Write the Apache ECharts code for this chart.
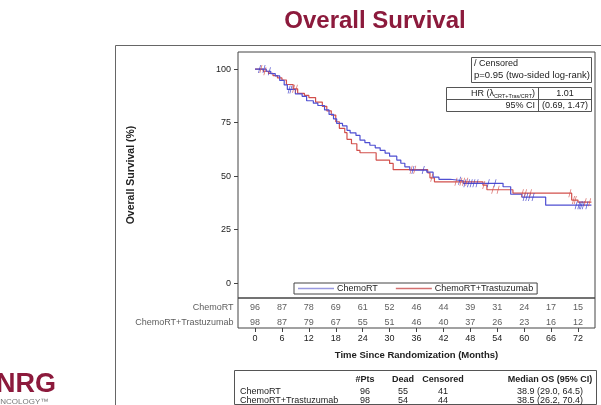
<!DOCTYPE html>
<html>
<head>
<meta charset="utf-8">
<script src="https://cdn.jsdelivr.net/npm/echarts@6/dist/echarts.min.js"></script>
<style>
  html, body { margin: 0; padding: 0; background: #fff; }
  #chart { width: 601px; height: 405px; }
</style>
</head>
<body>
<div id="chart"></div>
<script>
// Kaplan-Meier step points (months, % surviving)
const chemoTimes = [0, 2.5, 3.5, 4.5, 5.5, 6.5, 7.2, 9, 10.5, 11.5, 13, 14, 15.5, 16.5, 17.5, 18.2, 19.5, 20.5, 21.2, 22.5, 23.4, 24.5, 25.6, 26.8, 27.9, 29, 30, 31.6, 32.5, 33.4, 34.5, 38.3, 39.7, 41, 43.5, 46.4, 55.3, 57, 59.5, 64.8, 75];
const chemoSurv  = [100, 99, 97.9, 96.8, 94.7, 92.6, 90.5, 88.4, 87.3, 85.2, 84.1, 83, 80.9, 78.8, 76.7, 74.6, 73.5, 71.4, 70.2, 69, 66.8, 65.6, 64.4, 63.2, 62, 60.7, 59.3, 57.5, 56, 54.3, 52.8, 51.8, 49.5, 48.5, 47.8, 46.6, 45, 41.5, 40.2, 36.4, 36.4];
const trasTimes  = [0, 1.8, 3, 4, 5, 6, 7, 8.5, 9.5, 11, 12, 13.5, 15, 16, 17, 18, 18.8, 20, 20.5, 21.5, 22.7, 23.4, 27, 30, 30.8, 38.5, 39, 40, 50.8, 51.7, 57.5, 70.6, 72, 75];
const trasSurv   = [100, 99, 98, 97, 95.9, 94.9, 92.8, 90.8, 88.7, 87.7, 86.7, 84.6, 82.6, 80.5, 78.5, 75.4, 72.3, 70.3, 67.2, 65.1, 62, 60.9, 57.5, 55.9, 53, 51.5, 49.2, 47.3, 45.8, 43.6, 42, 38.8, 37.8, 37.8];

// Censoring times (months)
const chemoCens = [1, 2, 3.2, 7.6, 8, 35.2, 37.5, 45.6, 46.8, 47.6, 48.2, 48.8, 49.5, 52, 53.5, 60, 60.6, 61.2, 62, 71.6, 72.2, 72.5, 72.8, 73.2, 74];
const trasCens  = [1.3, 2.2, 8.6, 9.2, 34.8, 35.6, 39.4, 44.8, 45.9, 46.5, 47.2, 51, 53, 54.2, 59.6, 60.3, 61.4, 70.2, 71, 71.4, 73.6, 74.6];

// Number at risk
const riskTimes = [0, 6, 12, 18, 24, 30, 36, 42, 48, 54, 60, 66, 72];
const chemoRisk = [96, 87, 78, 69, 61, 52, 46, 44, 39, 31, 24, 17, 15];
const trasRisk  = [98, 87, 79, 67, 55, 51, 46, 40, 37, 26, 23, 16, 12];
const armNames  = ['ChemoRT', 'ChemoRT+Trastuzumab'];

const xTicks = [0, 6, 12, 18, 24, 30, 36, 42, 48, 54, 60, 66, 72];
const yTicks = [0, 25, 50, 75, 100];

// Summary table
const statHeaders = ['#Pts', 'Dead', 'Censored', 'Median OS (95% CI)'];
const statChemo = ['ChemoRT', '96', '55', '41', '38.9 (29.0, 64.5)'];
const statTras  = ['ChemoRT+Trastuzumab', '98', '54', '44', '38.5 (26.2, 70.4)'];

const BLUE = '#4f4fd2';
const RED = '#d2504c';
const FONT = '"Liberation Sans", Arial, sans-serif';
const INK = '#222';
const FS = 9;

function pairs(ts, vs) { return ts.map((t, i) => [t, vs[i]]); }
function survAt(ts, vs, t) {
  let v = vs[0];
  for (let i = 0; i < ts.length; i++) { if (ts[i] <= t) v = vs[i]; }
  return v;
}
const censorPath = 'path://M2.2,0 L3,0 L0.8,10 L0,10 Z';
const X_MIN = -3.8, X_MAX = 75.8;

const chart = echarts.init(document.getElementById('chart'), null, { renderer: 'canvas' });

// Summary table text elements
const colX = [365, 403, 443, 550];
const tableEls = [
  { type: 'rect', shape: { x: 234.5, y: 370.5, width: 362, height: 34 }, style: { fill: 'none', stroke: '#555', lineWidth: 1 } }
];
statHeaders.forEach((h, i) => tableEls.push({
  type: 'text', x: colX[i], y: 380,
  style: { text: h, font: 'bold ' + FS + 'px ' + FONT, fill: INK, textAlign: 'center', textVerticalAlign: 'middle' }
}));
[statChemo, statTras].forEach((row, r) => {
  const y = r === 0 ? 391.5 : 401;
  tableEls.push({ type: 'text', x: 240, y: y, style: { text: row[0], font: FS + 'px ' + FONT, fill: INK, textAlign: 'left', textVerticalAlign: 'middle' } });
  for (let c = 1; c < row.length; c++) {
    tableEls.push({ type: 'text', x: colX[c - 1], y: y, style: { text: row[c], font: FS + 'px ' + FONT, fill: INK, textAlign: 'center', textVerticalAlign: 'middle' } });
  }
});

const riskLabel = {
  show: true, position: 'inside', offset: [0, 2.5], formatter: p => p.value[2],
  fontSize: FS, color: '#333', fontFamily: FONT
};
const rowLabel = {
  show: true, position: 'left', distance: 4, offset: [0, 2.5], formatter: p => p.value[2],
  fontSize: FS, color: '#333', fontFamily: FONT
};

const option = {
  backgroundColor: '#fff',
  animation: false,
  textStyle: { fontFamily: FONT },
  grid: [
    { left: 238, right: 6, top: 52, bottom: 107, show: true, borderColor: '#444', borderWidth: 1, backgroundColor: 'transparent' },
    { left: 238, right: 6, top: 298, height: 30, show: true, borderColor: '#444', borderWidth: 1, backgroundColor: 'transparent' }
  ],
  xAxis: [
    { gridIndex: 0, type: 'value', min: X_MIN, max: X_MAX, show: false },
    {
      gridIndex: 1, type: 'value', min: X_MIN, max: X_MAX,
      axisLine: { show: false, onZero: false },
      splitLine: { show: false },
      axisTick: { show: true, inside: false, length: 4, customValues: xTicks, lineStyle: { color: '#444' } },
      axisLabel: { customValues: xTicks, fontSize: FS, color: INK, margin: 6, fontFamily: FONT },
      name: 'Time Since Randomization (Months)', nameLocation: 'middle', nameGap: 22,
      nameTextStyle: { fontSize: 9.5, fontWeight: 'bold', color: INK, fontFamily: FONT }
    }
  ],
  yAxis: [
    {
      gridIndex: 0, type: 'value', min: -7, max: 108,
      axisLine: { show: false, onZero: false },
      splitLine: { show: false },
      axisTick: { show: true, inside: false, length: 4, customValues: yTicks, lineStyle: { color: '#444' } },
      axisLabel: { customValues: yTicks, fontSize: FS, color: INK, margin: 7, fontFamily: FONT },
      name: 'Overall Survival (%)', nameLocation: 'middle', nameGap: 101,
      nameTextStyle: { fontSize: 10.5, fontWeight: 'bold', color: INK, fontFamily: FONT }
    },
    {
      gridIndex: 1, type: 'value', min: -0.5, max: 1.5, inverse: true, show: false
    }
  ],
  legend: {
    left: 294, top: 283,
    data: armNames,
    icon: 'rect', itemWidth: 36, itemHeight: 1.5, itemGap: 18,
    padding: [1, 4], borderColor: '#444', borderWidth: 1, backgroundColor: '#fff',
    textStyle: { fontSize: FS, color: INK, fontFamily: FONT, padding: [0, 0, 0, -2] }
  },
  series: [
    {
      name: 'ChemoRT', type: 'line', xAxisIndex: 0, yAxisIndex: 0, step: 'end',
      data: pairs(chemoTimes, chemoSurv), showSymbol: false,
      lineStyle: { color: BLUE, width: 1.2 }, itemStyle: { color: '#9999e0' }, z: 3
    },
    {
      name: 'ChemoRT+Trastuzumab', type: 'line', xAxisIndex: 0, yAxisIndex: 0, step: 'end',
      data: pairs(trasTimes, trasSurv), showSymbol: false,
      lineStyle: { color: RED, width: 1.2 }, itemStyle: { color: '#d47070' }, z: 2
    },
    {
      name: 'censorChemo', type: 'scatter', xAxisIndex: 0, yAxisIndex: 0,
      symbol: censorPath, symbolSize: [3, 8],
      data: chemoCens.map(t => [t, survAt(chemoTimes, chemoSurv, t)]),
      itemStyle: { color: '#3a3ac8' }, z: 4
    },
    {
      name: 'censorTras', type: 'scatter', xAxisIndex: 0, yAxisIndex: 0,
      symbol: censorPath, symbolSize: [3, 8],
      data: trasCens.map(t => [t, survAt(trasTimes, trasSurv, t)]),
      itemStyle: { color: RED }, z: 4
    },
    {
      name: 'riskChemo', type: 'scatter', xAxisIndex: 1, yAxisIndex: 1,
      symbol: 'circle', symbolSize: 1, itemStyle: { color: 'transparent' },
      data: riskTimes.map((t, i) => [t, 0, chemoRisk[i]]), label: riskLabel
    },
    {
      name: 'riskTras', type: 'scatter', xAxisIndex: 1, yAxisIndex: 1,
      symbol: 'circle', symbolSize: 1, itemStyle: { color: 'transparent' },
      data: riskTimes.map((t, i) => [t, 1, trasRisk[i]]), label: riskLabel
    },
    {
      name: 'riskRows', type: 'scatter', xAxisIndex: 1, yAxisIndex: 1,
      symbol: 'circle', symbolSize: 1, itemStyle: { color: 'transparent' },
      data: armNames.map((n, i) => [X_MIN, i, n]), label: rowLabel
    }
  ],
  graphic: [
    // page title
    { type: 'text', x: 375, y: 21, style: { text: 'Overall Survival', font: 'bold 24px ' + FONT, fill: '#8c1a3c', textAlign: 'center', textVerticalAlign: 'middle' } },
    // outer frame
    { type: 'polyline', shape: { points: [[115.5, 405], [115.5, 45.5], [601, 45.5]] }, style: { stroke: '#666', lineWidth: 1, fill: 'none' } },
    // logo
    { type: 'text', x: -4, y: 385, style: { text: 'NRG', font: 'bold 27px ' + FONT, fill: '#8c1a3c', textAlign: 'left', textVerticalAlign: 'middle' } },
    { type: 'text', x: -6, y: 402, style: { text: 'ONCOLOGY™', font: '8px ' + FONT, fill: '#777', textAlign: 'left', textVerticalAlign: 'middle' } },
    // censor / p-value box
    { type: 'rect', shape: { x: 471.5, y: 57.5, width: 120, height: 25 }, style: { fill: '#fff', stroke: '#555', lineWidth: 1 } },
    { type: 'text', x: 474, y: 63.5, style: { text: '/ Censored', font: FS + 'px ' + FONT, fill: INK, textVerticalAlign: 'middle' } },
    { type: 'text', x: 474, y: 75.5, style: { text: 'p=0.95 (two-sided log-rank)', font: '9.5px ' + FONT, fill: INK, textVerticalAlign: 'middle' } },
    // hazard ratio box
    { type: 'rect', shape: { x: 446.5, y: 87.5, width: 145, height: 24 }, style: { fill: '#fff', stroke: '#555', lineWidth: 1 } },
    { type: 'line', shape: { x1: 446.5, y1: 99.5, x2: 591.5, y2: 99.5 }, style: { stroke: '#555', lineWidth: 1 } },
    { type: 'line', shape: { x1: 538.5, y1: 87.5, x2: 538.5, y2: 111.5 }, style: { stroke: '#555', lineWidth: 1 } },
    {
      type: 'text', x: 535, y: 93.5,
      style: {
        text: '{a|HR (λ}{s|CRT+Tras/CRT}{a|)}', textAlign: 'right', textVerticalAlign: 'middle', fill: INK,
        rich: { a: { fontSize: FS, fontFamily: FONT, fill: INK }, s: { fontSize: 5.5, fontFamily: FONT, fill: INK, padding: [5, 0, 0, 0] } }
      }
    },
    { type: 'text', x: 565, y: 93.5, style: { text: '1.01', font: FS + 'px ' + FONT, fill: INK, textAlign: 'center', textVerticalAlign: 'middle' } },
    { type: 'text', x: 535, y: 105.5, style: { text: '95% CI', font: FS + 'px ' + FONT, fill: INK, textAlign: 'right', textVerticalAlign: 'middle' } },
    { type: 'text', x: 565, y: 105.5, style: { text: '(0.69, 1.47)', font: FS + 'px ' + FONT, fill: INK, textAlign: 'center', textVerticalAlign: 'middle' } }
  ].concat(tableEls)
};

chart.setOption(option);
</script>
</body>
</html>
